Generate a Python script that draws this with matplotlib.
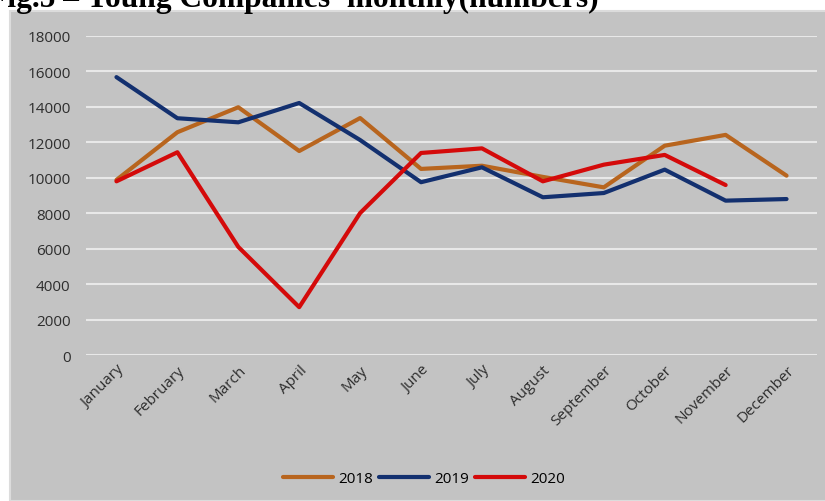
import matplotlib.pyplot as plt
from matplotlib.patches import Rectangle

months = ['January', 'February', 'March', 'April', 'May', 'June', 'July',
          'August', 'September', 'October', 'November', 'December']
y2018 = [9880, 12570, 13980, 11510, 13370, 10500, 10680, 10050, 9460, 11810, 12420, 10120]
y2019 = [15680, 13360, 13130, 14220, 12130, 9750, 10590, 8900, 9140, 10460, 8710, 8800]
y2020 = [9800, 11440, 6100, 2700, 8010, 11400, 11660, 9800, 10740, 11290, 9590]

W, H = 825, 502
fig = plt.figure(figsize=(W / 100, H / 100), dpi=100)
fig.patch.set_facecolor('white')

# grey chart panel, kept behind the axes
fig.patches.append(Rectangle((10 / W, 0), 1, 1 - 12 / H, transform=fig.transFigure,
                             facecolor='#c3c3c3', edgecolor='#dcdcdc', lw=1.5, zorder=-10))

fig.text(-12 / W, 1 - 7 / H, "Fig.5 \u2013 Young Companies' monthly(numbers)",
         family='Liberation Serif', weight='bold', fontsize=22.7, va='baseline', ha='left')

ax = fig.add_axes([86 / W, 1 - 356 / H, (817 - 86) / W, (356 - 37) / H])
ax.set_facecolor('none')
x = list(range(len(months)))
ax.plot(x, y2018, color='#b8651e', lw=3, label='2018', solid_capstyle='round')
ax.plot(x, y2019, color='#13306f', lw=3, label='2019', solid_capstyle='round')
ax.plot(x[:len(y2020)], y2020, color='#d40a0a', lw=3, label='2020', solid_capstyle='round')

ax.set_xlim(-0.5, 11.5)
ax.set_ylim(0, 18000)
ax.set_yticks(range(0, 18001, 2000))
ax.grid(axis='y', color='#e8e8e8', lw=1.5)
ax.set_axisbelow(True)
for s in ax.spines.values():
    s.set_visible(False)
ax.tick_params(length=0, labelsize=11, labelcolor='#2e2e2e')
ax.tick_params(axis='y', pad=11)
ax.set_xticks(x)
ax.set_xticklabels(months, rotation=45, ha='right', rotation_mode='anchor', family='Open Sans')
ax.tick_params(axis='x', pad=5)
for t in ax.get_yticklabels():
    t.set_family('Open Sans')

fig.legend(loc='center', bbox_to_anchor=(424 / W, 1 - 480 / H), ncol=3, frameon=False,
           handlelength=3.3, handletextpad=0.35, columnspacing=0.35,
           prop={'family': 'Open Sans', 'size': 11})

fig.savefig('out.png', dpi=100)
